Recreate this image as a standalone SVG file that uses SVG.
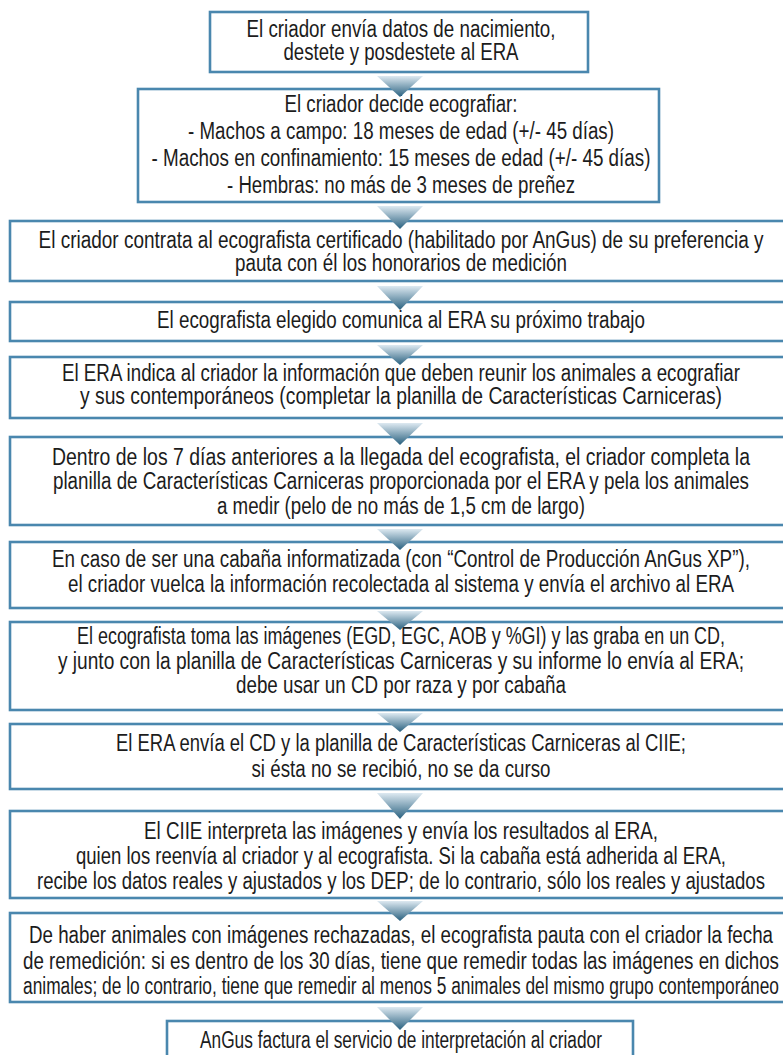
<svg xmlns="http://www.w3.org/2000/svg" width="783" height="1055" viewBox="0 0 783 1055">
<style>
.box{fill:#ffffff;stroke:#4a87ae;stroke-width:2.6}
.t{font-family:"Liberation Sans",Arial,sans-serif;font-size:23px;fill:#1c1c1c;text-anchor:middle}
.arr{fill:url(#g)}
</style>
<defs>
<linearGradient id="g" x1="0" y1="0" x2="0" y2="1">
<stop offset="0" stop-color="#dde9f1"/>
<stop offset="1" stop-color="#28607f"/>
</linearGradient>
</defs>
<rect width="783" height="1055" fill="#ffffff"/>
<g id="n1"><rect class="box" x="210" y="12" width="378" height="60"/>
<text class="t" x="401" y="37" textLength="309" lengthAdjust="spacingAndGlyphs">El criador envía datos de nacimiento,</text>
<text class="t" x="401" y="60" textLength="235" lengthAdjust="spacingAndGlyphs">destete y posdestete al ERA</text></g>
<g id="n2"><rect class="box" x="138" y="89" width="521" height="113"/>
<text class="t" x="401" y="112" textLength="233" lengthAdjust="spacingAndGlyphs">El criador decide ecografiar:</text>
<text class="t" x="401" y="139" textLength="426" lengthAdjust="spacingAndGlyphs">- Machos a campo: 18 meses de edad (+/- 45 días)</text>
<text class="t" x="401" y="166" textLength="499" lengthAdjust="spacingAndGlyphs">- Machos en confinamiento: 15 meses de edad (+/- 45 días)</text>
<text class="t" x="401" y="193" textLength="348" lengthAdjust="spacingAndGlyphs">- Hembras: no más de 3 meses de preñez</text></g>
<g id="n3"><rect class="box" x="10" y="221" width="790" height="60"/>
<text class="t" x="401" y="248" textLength="725" lengthAdjust="spacingAndGlyphs">El criador contrata al ecografista certificado (habilitado por AnGus) de su preferencia y</text>
<text class="t" x="401" y="271" textLength="332" lengthAdjust="spacingAndGlyphs">pauta con él los honorarios de medición</text></g>
<g id="n4"><rect class="box" x="10" y="302" width="790" height="39"/>
<text class="t" x="401" y="328" textLength="488" lengthAdjust="spacingAndGlyphs">El ecografista elegido comunica al ERA su próximo trabajo</text></g>
<g id="n5"><rect class="box" x="10" y="357" width="790" height="61"/>
<text class="t" x="401" y="381" textLength="678" lengthAdjust="spacingAndGlyphs">El ERA indica al criador la información que deben reunir los animales a ecografiar</text>
<text class="t" x="401" y="404" textLength="642" lengthAdjust="spacingAndGlyphs">y sus contemporáneos (completar la planilla de Características Carniceras)</text></g>
<g id="n6"><rect class="box" x="10" y="437" width="790" height="88"/>
<text class="t" x="401" y="465" textLength="698" lengthAdjust="spacingAndGlyphs">Dentro de los 7 días anteriores a la llegada del ecografista, el criador completa la</text>
<text class="t" x="401" y="489" textLength="696" lengthAdjust="spacingAndGlyphs">planilla de Características Carniceras proporcionada por el ERA y pela los animales</text>
<text class="t" x="401" y="514" textLength="368" lengthAdjust="spacingAndGlyphs">a medir (pelo de no más de 1,5 cm de largo)</text></g>
<g id="n7"><rect class="box" x="10" y="542" width="790" height="66"/>
<text class="t" x="401" y="567" textLength="698" lengthAdjust="spacingAndGlyphs">En caso de ser una cabaña informatizada (con “Control de Producción AnGus XP”),</text>
<text class="t" x="401" y="592" textLength="666" lengthAdjust="spacingAndGlyphs">el criador vuelca la información recolectada al sistema y envía el archivo al ERA</text></g>
<g id="n8"><rect class="box" x="10" y="622" width="790" height="88"/>
<text class="t" x="401" y="644" textLength="648" lengthAdjust="spacingAndGlyphs">El ecografista toma las imágenes (EGD, EGC, AOB y %GI) y las graba en un CD,</text>
<text class="t" x="401" y="669" textLength="686" lengthAdjust="spacingAndGlyphs">y junto con la planilla de Características Carniceras y su informe lo envía al ERA;</text>
<text class="t" x="401" y="693" textLength="330" lengthAdjust="spacingAndGlyphs">debe usar un CD por raza y por cabaña</text></g>
<g id="n9"><rect class="box" x="10" y="724" width="790" height="65"/>
<text class="t" x="401" y="751" textLength="570" lengthAdjust="spacingAndGlyphs">El ERA envía el CD y la planilla de Características Carniceras al CIIE;</text>
<text class="t" x="401" y="777" textLength="299" lengthAdjust="spacingAndGlyphs">si ésta no se recibió, no se da curso</text></g>
<g id="n10"><rect class="box" x="10" y="811" width="790" height="87"/>
<text class="t" x="401" y="839" textLength="514" lengthAdjust="spacingAndGlyphs">El CIIE interpreta las imágenes y envía los resultados al ERA,</text>
<text class="t" x="401" y="864" textLength="650" lengthAdjust="spacingAndGlyphs">quien los reenvía al criador y al ecografista. Si la cabaña está adherida al ERA,</text>
<text class="t" x="401" y="889" textLength="728" lengthAdjust="spacingAndGlyphs">recibe los datos reales y ajustados y los DEP; de lo contrario, sólo los reales y ajustados</text></g>
<g id="n11"><rect class="box" x="10" y="913" width="790" height="89"/>
<text class="t" x="401" y="943" textLength="744" lengthAdjust="spacingAndGlyphs">De haber animales con imágenes rechazadas, el ecografista pauta con el criador la fecha</text>
<text class="t" x="401" y="969" textLength="756" lengthAdjust="spacingAndGlyphs">de remedición: si es dentro de los 30 días, tiene que remedir todas las imágenes en dichos</text>
<text class="t" x="401" y="994" textLength="756" lengthAdjust="spacingAndGlyphs">animales; de lo contrario, tiene que remedir al menos 5 animales del mismo grupo contemporáneo</text></g>
<g id="n12"><rect class="box" x="167" y="1021" width="466" height="45"/>
<text class="t" x="401" y="1048" textLength="402" lengthAdjust="spacingAndGlyphs">AnGus factura el servicio de interpretación al criador</text></g>
<g id="connectors">
<polygon class="arr" points="377,76 423,76 400,97"/>
<polygon class="arr" points="377,206 423,206 400,229"/>
<polygon class="arr" points="377,286 423,286 400,310"/>
<polygon class="arr" points="377,345 423,345 400,365"/>
<polygon class="arr" points="377,423 423,423 400,445"/>
<polygon class="arr" points="377,529 423,529 400,550"/>
<polygon class="arr" points="377,611 423,611 400,630"/>
<polygon class="arr" points="377,713 423,713 400,732"/>
<polygon class="arr" points="377,793 423,793 400,819"/>
<polygon class="arr" points="377,901 423,901 400,921"/>
<polygon class="arr" points="377,1007 423,1007 400,1030"/>
</g>
</svg>
